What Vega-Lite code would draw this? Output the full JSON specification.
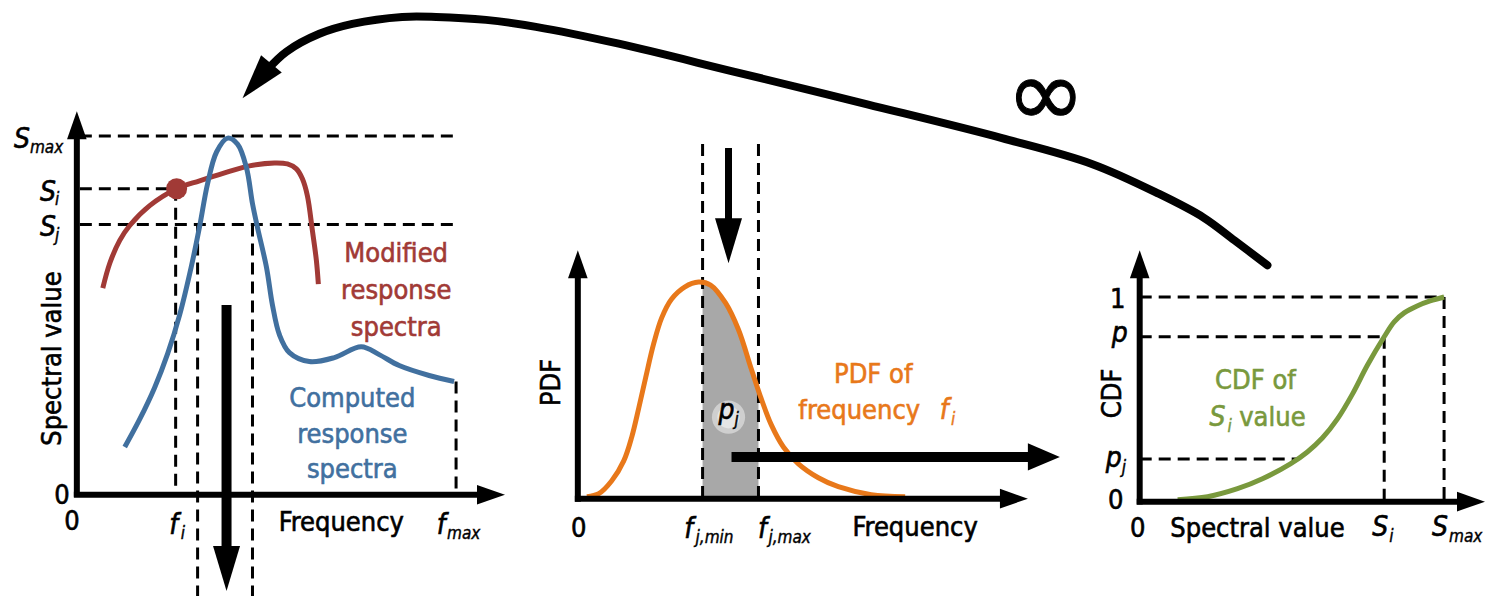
{
 "$schema": "https://vega.github.io/schema/vega-lite/v6.json",
 "width": 1486, "height": 598,
 "autosize": {"type": "fit", "contains": "padding"},
 "padding": 0,
 "background": "white",
 "config": {"view": {"stroke": null}},
 "datasets": {
  "curves": [
   {"c":"red","x":10.3,"y":31.0},{"c":"red","x":11.0,"y":33.5},{"c":"red","x":12.0,"y":35.8},{"c":"red","x":13.0,"y":37.3},{"c":"red","x":15.0,"y":39.3},{"c":"red","x":17.7,"y":41.0},{"c":"red","x":20.0,"y":41.8},{"c":"red","x":22.5,"y":42.6},{"c":"red","x":25.0,"y":43.3},{"c":"red","x":27.5,"y":43.6},{"c":"red","x":28.8,"y":43.5},{"c":"red","x":29.7,"y":43.0},{"c":"red","x":30.3,"y":42.0},{"c":"red","x":30.8,"y":40.3},{"c":"red","x":31.3,"y":36.8},{"c":"red","x":31.7,"y":33.8},{"c":"red","x":31.9,"y":31.4},
   {"c":"blue","x":12.5,"y":15.0},{"c":"blue","x":14.0,"y":17.8},{"c":"blue","x":15.5,"y":21.0},{"c":"blue","x":16.8,"y":24.4},{"c":"blue","x":18.0,"y":28.3},{"c":"blue","x":19.2,"y":33.3},{"c":"blue","x":20.0,"y":37.2},{"c":"blue","x":20.8,"y":41.5},{"c":"blue","x":21.7,"y":44.7},{"c":"blue","x":22.8,"y":46.1},{"c":"blue","x":23.8,"y":45.5},{"c":"blue","x":24.7,"y":43.1},{"c":"blue","x":25.3,"y":39.5},{"c":"blue","x":25.8,"y":37.1},{"c":"blue","x":26.7,"y":33.1},{"c":"blue","x":27.3,"y":29.3},{"c":"blue","x":28.0,"y":26.3},{"c":"blue","x":29.0,"y":24.5},{"c":"blue","x":31.0,"y":23.6},{"c":"blue","x":33.5,"y":24.0},{"c":"blue","x":36.2,"y":25.1},{"c":"blue","x":38.0,"y":24.3},{"c":"blue","x":40.0,"y":23.2},{"c":"blue","x":43.0,"y":22.2},{"c":"blue","x":45.5,"y":21.6},
   {"c":"orange","x":58.8,"y":10.0},{"c":"orange","x":60.0,"y":10.3},{"c":"orange","x":61.3,"y":11.6},{"c":"orange","x":62.5,"y":13.6},{"c":"orange","x":63.3,"y":16.0},{"c":"orange","x":64.0,"y":18.9},{"c":"orange","x":64.7,"y":22.0},{"c":"orange","x":65.5,"y":25.4},{"c":"orange","x":66.3,"y":28.0},{"c":"orange","x":67.3,"y":29.9},{"c":"orange","x":68.6,"y":31.1},{"c":"orange","x":70.0,"y":31.6},{"c":"orange","x":71.2,"y":31.3},{"c":"orange","x":72.7,"y":29.5},{"c":"orange","x":74.0,"y":26.8},{"c":"orange","x":75.3,"y":22.8},{"c":"orange","x":76.3,"y":19.8},{"c":"orange","x":77.3,"y":17.2},{"c":"orange","x":78.5,"y":15.0},{"c":"orange","x":80.0,"y":13.3},{"c":"orange","x":82.0,"y":11.9},{"c":"orange","x":84.0,"y":11.0},{"c":"orange","x":87.3,"y":10.2},{"c":"orange","x":90.7,"y":10.0},
   {"c":"green","x":118.0,"y":9.7},{"c":"green","x":121.0,"y":10.0},{"c":"green","x":124.0,"y":10.8},{"c":"green","x":126.5,"y":11.8},{"c":"green","x":129.3,"y":13.3},{"c":"green","x":131.0,"y":14.5},{"c":"green","x":132.5,"y":15.9},{"c":"green","x":134.0,"y":17.8},{"c":"green","x":135.5,"y":20.3},{"c":"green","x":137.0,"y":23.2},{"c":"green","x":138.7,"y":26.1},{"c":"green","x":139.7,"y":27.6},{"c":"green","x":140.7,"y":28.5},{"c":"green","x":142.0,"y":29.2},{"c":"green","x":143.3,"y":29.7},{"c":"green","x":144.7,"y":30.1}
  ],
  "shade": [
   {"x":70.4,"y":31.55},{"x":71.2,"y":31.3},{"x":72.7,"y":29.5},{"x":74.0,"y":26.8},{"x":75.3,"y":22.8},{"x":76.0,"y":20.7}
  ],
  "loop": [
   {"o":1,"x":127.0,"y":33.3},{"o":2,"x":123.7,"y":35.8},{"o":3,"x":120.6,"y":38.1},{"o":4,"x":116.1,"y":40.5},{"o":5,"x":109.4,"y":43.5},{"o":6,"x":100.4,"y":46.1},{"o":7,"x":86.9,"y":49.5},{"o":8,"x":73.5,"y":52.8},{"o":9,"x":62.0,"y":55.6},{"o":10,"x":53.7,"y":57.3},{"o":11,"x":48.7,"y":58.0},{"o":12,"x":43.7,"y":58.3},{"o":13,"x":40.3,"y":58.3},{"o":14,"x":35.3,"y":57.6},{"o":15,"x":32.0,"y":56.6},{"o":16,"x":28.7,"y":54.8},{"o":17,"x":26.8,"y":53.0}
  ],
  "dashes": [
   {"x":8.0,"y":46.3,"x2":45.7,"y2":46.3},
   {"x":8.0,"y":41.0,"x2":17.2,"y2":41.0},
   {"x":8.0,"y":37.4,"x2":45.7,"y2":37.4},
   {"x":17.6,"y":41.0,"x2":17.6,"y2":10.2},
   {"x":19.8,"y":37.4,"x2":19.8,"y2":0},
   {"x":25.3,"y":37.4,"x2":25.3,"y2":0},
   {"x":45.7,"y":21.6,"x2":45.7,"y2":10.2},
   {"x":70.4,"y":45.5,"x2":70.4,"y2":9.8},
   {"x":76.0,"y":45.5,"x2":76.0,"y2":9.8},
   {"x":114.2,"y":30.1,"x2":144.7,"y2":30.1},
   {"x":114.2,"y":26.1,"x2":138.7,"y2":26.1},
   {"x":114.2,"y":13.8,"x2":130.0,"y2":13.8},
   {"x":138.7,"y":26.1,"x2":138.7,"y2":9.5},
   {"x":144.7,"y":30.1,"x2":144.7,"y2":9.5}
  ],
  "axes": [
   {"x":7.7,"y":10.0,"x2":7.7,"y2":47.3},
   {"x":7.4,"y":10.2,"x2":48.5,"y2":10.2},
   {"x":57.9,"y":9.5,"x2":57.9,"y2":33.3},
   {"x":57.6,"y":9.8,"x2":101.5,"y2":9.8},
   {"x":114.2,"y":9.2,"x2":114.2,"y2":33.3},
   {"x":113.9,"y":9.5,"x2":146.5,"y2":9.5}
  ],
  "shaftsWide": [
   {"x":22.7,"y":29.3,"x2":22.7,"y2":5.0},
   {"x":73.3,"y":14.0,"x2":103.5,"y2":14.0}
  ],
  "shaftsThin": [
   {"x":73.0,"y":45.1,"x2":73.0,"y2":37.0}
  ],
  "headsUp": [{"x":7.7,"y":48.8},{"x":57.9,"y":34.8},{"x":114.2,"y":34.8}],
  "headsRight": [{"x":50.6,"y":10.2},{"x":103.0,"y":9.8},{"x":148.8,"y":9.5}],
  "headsDown": [{"x":22.7,"y":0.5},{"x":73.0,"y":33.5}],
  "headsArrowRight": [{"x":106.2,"y":14.0}],
  "headsLoop": [{"x":24.3,"y":50.1}],
  "dot": [{"x":17.7,"y":41.0}],
  "glow": [{"x":73.0,"y":18.0}],
  "txt": [
   {"t":"0","x":6.2,"y":10.1},{"t":"0","x":7.2,"y":7.4},{"t":"Frequency","x":34.2,"y":7.3},
   {"t":"0","x":58.0,"y":6.7},{"t":"Frequency","x":91.7,"y":6.8},
   {"t":"1","x":112.0,"y":29.8},{"t":"0","x":111.8,"y":9.6},{"t":"0","x":114.0,"y":6.7},{"t":"Spectral value","x":126.0,"y":6.7}
  ],
  "rot": [
   {"t":"Spectral value","x":5.3,"y":23.9},{"t":"PDF","x":55.3,"y":21.5},{"t":"CDF","x":111.5,"y":20.4}
  ],
  "ital": [
   {"t":"S","x":2.2,"y":45.1,"c":"k"},{"t":"S","x":4.8,"y":39.8,"c":"k"},{"t":"S","x":4.8,"y":36.2,"c":"k"},
   {"t":"f","x":17.4,"y":6.2,"c":"k"},{"t":"f","x":44.2,"y":6.2,"c":"k"},
   {"t":"f","x":69.0,"y":5.8,"c":"k"},{"t":"f","x":76.4,"y":5.8,"c":"k"},
   {"t":"p","x":72.8,"y":17.8,"c":"k"},{"t":"p","x":112.2,"y":25.6,"c":"k"},{"t":"p","x":111.6,"y":13.0,"c":"k"},
   {"t":"S","x":138.3,"y":6.0,"c":"k"},{"t":"S","x":144.3,"y":6.0,"c":"k"},
   {"t":"f","x":94.6,"y":17.8,"c":"orange"},{"t":"S","x":122.0,"y":17.1,"c":"green"}
  ],
  "sub": [
   {"t":"max","x":3.0,"y":44.6,"c":"k"},{"t":"i","x":5.5,"y":39.4,"c":"k"},{"t":"j","x":5.5,"y":35.7,"c":"k"},
   {"t":"i","x":18.1,"y":5.7,"c":"k"},{"t":"max","x":44.8,"y":5.7,"c":"k"},
   {"t":"j,min","x":69.7,"y":5.3,"c":"k"},{"t":"j,max","x":77.0,"y":5.3,"c":"k"},
   {"t":"j","x":73.6,"y":17.2,"c":"k"},{"t":"j","x":112.4,"y":12.4,"c":"k"},
   {"t":"i","x":139.2,"y":5.4,"c":"k"},{"t":"max","x":145.2,"y":5.4,"c":"k"},
   {"t":"i","x":95.3,"y":17.2,"c":"orange"},{"t":"i","x":123.0,"y":16.5,"c":"green"}
  ],
  "col": [
   {"t":"Modified","x":39.7,"y":33.6,"c":"red"},{"t":"response","x":39.7,"y":29.9,"c":"red"},{"t":"spectra","x":39.7,"y":26.2,"c":"red"},
   {"t":"Computed","x":35.3,"y":19.0,"c":"blue"},{"t":"response","x":35.3,"y":15.4,"c":"blue"},{"t":"spectra","x":35.3,"y":11.9,"c":"blue"},
   {"t":"PDF of","x":87.5,"y":21.4,"c":"orange"},{"t":"frequency","x":86.1,"y":17.8,"c":"orange"},
   {"t":"CDF of","x":125.8,"y":20.8,"c":"green"},{"t":"value","x":127.5,"y":17.1,"c":"green"}
  ],
  "inf": [{"t":"∞","x":104.8,"y":50.2}]
 },
 "layer": [
  {"data":{"name":"shade"},"mark":{"type":"area","interpolate":"catmull-rom","color":"#a8a8a8"},
   "encoding":{"x":{"field":"x","type":"quantitative","scale":{"domain":[0,148.6],"nice":false,"zero":false},"axis":null},
    "y":{"field":"y","type":"quantitative","scale":{"domain":[0,59.8],"nice":false,"zero":false},"axis":null},
    "y2":{"datum":9.8}}},
  {"data":{"name":"glow"},"mark":{"type":"point","filled":true,"color":"white","opacity":0.45,"size":1100},
   "encoding":{"x":{"field":"x","type":"quantitative"},"y":{"field":"y","type":"quantitative"}}},
  {"data":{"name":"glow"},"mark":{"type":"point","filled":true,"color":"white","opacity":0.45,"size":500},
   "encoding":{"x":{"field":"x","type":"quantitative"},"y":{"field":"y","type":"quantitative"}}},
  {"data":{"name":"dashes"},"mark":{"type":"rule","strokeDash":[12,7],"strokeWidth":3,"color":"black"},
   "encoding":{"x":{"field":"x","type":"quantitative"},"y":{"field":"y","type":"quantitative"},"x2":{"field":"x2"},"y2":{"field":"y2"}}},
  {"data":{"name":"curves"},"mark":{"type":"line","interpolate":"catmull-rom","strokeWidth":5},
   "encoding":{"x":{"field":"x","type":"quantitative"},"y":{"field":"y","type":"quantitative"},
    "color":{"field":"c","type":"nominal","scale":{"domain":["k","red","blue","orange","green"],"range":["#000000","#a13a36","#41709f","#e8781a","#79993d"]},"legend":null}}},
  {"data":{"name":"loop"},"mark":{"type":"line","interpolate":"catmull-rom","strokeWidth":8,"color":"black","strokeCap":"round"},
   "encoding":{"x":{"field":"x","type":"quantitative"},"y":{"field":"y","type":"quantitative"},"order":{"field":"o","type":"quantitative"}}},
  {"data":{"name":"axes"},"mark":{"type":"rule","strokeWidth":6,"color":"black"},
   "encoding":{"x":{"field":"x","type":"quantitative"},"y":{"field":"y","type":"quantitative"},"x2":{"field":"x2"},"y2":{"field":"y2"}}},
  {"data":{"name":"shaftsWide"},"mark":{"type":"rule","strokeWidth":10,"color":"black"},
   "encoding":{"x":{"field":"x","type":"quantitative"},"y":{"field":"y","type":"quantitative"},"x2":{"field":"x2"},"y2":{"field":"y2"}}},
  {"data":{"name":"shaftsThin"},"mark":{"type":"rule","strokeWidth":7,"color":"black"},
   "encoding":{"x":{"field":"x","type":"quantitative"},"y":{"field":"y","type":"quantitative"},"x2":{"field":"x2"},"y2":{"field":"y2"}}},
  {"data":{"name":"headsUp"},"mark":{"type":"point","shape":"M0,0L0.7,2L-0.7,2Z","size":784,"filled":true,"opacity":1,"color":"black","angle":0},
   "encoding":{"x":{"field":"x","type":"quantitative"},"y":{"field":"y","type":"quantitative"}}},
  {"data":{"name":"headsRight"},"mark":{"type":"point","shape":"M0,0L0.7,2L-0.7,2Z","size":784,"filled":true,"opacity":1,"color":"black","angle":90},
   "encoding":{"x":{"field":"x","type":"quantitative"},"y":{"field":"y","type":"quantitative"}}},
  {"data":{"name":"headsDown"},"mark":{"type":"point","shape":"M0,0L0.6,2L-0.6,2Z","size":2025,"filled":true,"opacity":1,"color":"black","angle":180},
   "encoding":{"x":{"field":"x","type":"quantitative"},"y":{"field":"y","type":"quantitative"}}},
  {"data":{"name":"headsArrowRight"},"mark":{"type":"point","shape":"M0,0L0.85,2L-0.85,2Z","size":1024,"filled":true,"opacity":1,"color":"black","angle":90},
   "encoding":{"x":{"field":"x","type":"quantitative"},"y":{"field":"y","type":"quantitative"}}},
  {"data":{"name":"headsLoop"},"mark":{"type":"point","shape":"M0,0L0.6,2L-0.6,2Z","size":2025,"filled":true,"opacity":1,"color":"black","angle":220},
   "encoding":{"x":{"field":"x","type":"quantitative"},"y":{"field":"y","type":"quantitative"}}},
  {"data":{"name":"dot"},"mark":{"type":"point","shape":"circle","size":440,"filled":true,"opacity":1,"color":"#a13a36"},
   "encoding":{"x":{"field":"x","type":"quantitative"},"y":{"field":"y","type":"quantitative"}}},
  {"data":{"name":"txt"},"mark":{"type":"text","font":"DejaVu Sans Condensed, DejaVu Sans","fontSize":27,"align":"center","baseline":"middle","color":"black","stroke":"black","strokeWidth":0.6},
   "encoding":{"x":{"field":"x","type":"quantitative"},"y":{"field":"y","type":"quantitative"},"text":{"field":"t"}}},
  {"data":{"name":"rot"},"mark":{"type":"text","font":"DejaVu Sans Condensed, DejaVu Sans","fontSize":27,"align":"center","baseline":"middle","angle":270,"color":"black","stroke":"black","strokeWidth":0.6},
   "encoding":{"x":{"field":"x","type":"quantitative"},"y":{"field":"y","type":"quantitative"},"text":{"field":"t"}}},
  {"data":{"name":"ital"},"mark":{"type":"text","font":"DejaVu Sans Condensed, DejaVu Sans","fontSize":28,"fontStyle":"italic","align":"center","baseline":"alphabetic","strokeWidth":0.6},
   "encoding":{"x":{"field":"x","type":"quantitative"},"y":{"field":"y","type":"quantitative"},"text":{"field":"t"},
    "color":{"field":"c","type":"nominal","scale":{"domain":["k","red","blue","orange","green"],"range":["#000000","#a13a36","#41709f","#e8781a","#79993d"]},"legend":null},
    "stroke":{"field":"c","type":"nominal","scale":{"domain":["k","red","blue","orange","green"],"range":["#000000","#a13a36","#41709f","#e8781a","#79993d"]},"legend":null}}},
  {"data":{"name":"sub"},"mark":{"type":"text","font":"DejaVu Sans Condensed, DejaVu Sans","fontSize":17,"fontStyle":"italic","align":"left","baseline":"alphabetic","strokeWidth":0.4},
   "encoding":{"x":{"field":"x","type":"quantitative"},"y":{"field":"y","type":"quantitative"},"text":{"field":"t"},
    "color":{"field":"c","type":"nominal","scale":{"domain":["k","red","blue","orange","green"],"range":["#000000","#a13a36","#41709f","#e8781a","#79993d"]},"legend":null},
    "stroke":{"field":"c","type":"nominal","scale":{"domain":["k","red","blue","orange","green"],"range":["#000000","#a13a36","#41709f","#e8781a","#79993d"]},"legend":null}}},
  {"data":{"name":"col"},"mark":{"type":"text","font":"DejaVu Sans Condensed, DejaVu Sans","fontSize":27,"align":"center","baseline":"alphabetic","strokeWidth":0.6},
   "encoding":{"x":{"field":"x","type":"quantitative"},"y":{"field":"y","type":"quantitative"},"text":{"field":"t"},
    "color":{"field":"c","type":"nominal","scale":{"domain":["k","red","blue","orange","green"],"range":["#000000","#a13a36","#41709f","#e8781a","#79993d"]},"legend":null},
    "stroke":{"field":"c","type":"nominal","scale":{"domain":["k","red","blue","orange","green"],"range":["#000000","#a13a36","#41709f","#e8781a","#79993d"]},"legend":null}}},
  {"data":{"name":"inf"},"mark":{"type":"text","font":"DejaVu Sans","fontSize":95,"align":"center","baseline":"middle","color":"black","stroke":"black","strokeWidth":1},
   "encoding":{"x":{"field":"x","type":"quantitative"},"y":{"field":"y","type":"quantitative"},"text":{"field":"t"}}}
 ]
}
